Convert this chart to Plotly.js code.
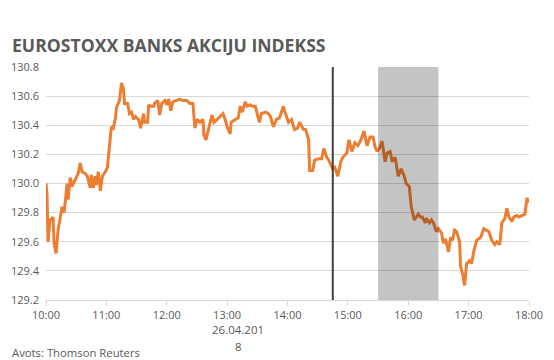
<!DOCTYPE html>
<html>
<head>
<meta charset="utf-8">
<script src="https://cdn.plot.ly/plotly-3.0.1.min.js"></script>
<style>html,body{margin:0;padding:0;background:#fff;}#chart{width:554px;height:360px;}</style>
</head>
<body>
<div id="chart"></div>
<script>
const dateStr = "2018-04-26";
const times = ["10:00","10:01","10:02","10:04","10:06","10:07","10:08","10:10","10:12","10:15","10:16","10:18","10:21","10:22","10:24","10:26","10:29","10:32","10:34","10:36","10:39","10:41","10:44","10:45","10:47","10:49","10:50","10:52","10:54","10:56","10:59","11:01","11:03","11:05","11:07","11:09","11:10","11:13","11:15","11:17","11:18","11:21","11:23","11:25","11:27","11:29","11:32","11:34","11:37","11:38","11:41","11:42","11:44","11:47","11:48","11:51","11:53","11:55","11:58","12:00","12:02","12:04","12:06","12:10","12:13","12:16","12:20","12:23","12:26","12:28","12:30","12:33","12:36","12:37","12:39","12:41","12:45","12:47","12:50","12:53","12:56","12:58","13:00","13:03","13:04","13:08","13:11","13:13","13:15","13:18","13:20","13:23","13:25","13:28","13:29","13:32","13:34","13:38","13:41","13:43","13:46","13:49","13:52","13:56","13:57","14:01","14:04","14:07","14:10","14:12","14:16","14:18","14:21","14:22","14:25","14:27","14:31","14:34","14:36","14:39","14:41","14:45","14:47","14:50","14:53","14:55","14:59","15:01","15:04","15:07","15:10","15:13","15:16","15:19","15:22","15:25","15:27","15:29","15:32","15:34","15:37","15:39","15:42","15:44","15:47","15:50","15:53","15:56","15:58","16:01","16:03","16:06","16:08","16:10","16:12","16:14","16:17","16:18","16:21","16:23","16:25","16:28","16:30","16:33","16:35","16:37","16:40","16:42","16:44","16:46","16:48","16:51","16:52","16:54","16:56","16:58","17:01","17:03","17:05","17:08","17:10","17:12","17:15","17:18","17:20","17:23","17:26","17:28","17:31","17:33","17:36","17:38","17:40","17:43","17:45","17:48","17:50","17:53","17:56","17:58","18:00"];
const values = [130.00,129.93,129.60,129.75,129.76,129.77,129.59,129.52,129.68,129.82,129.84,129.80,130.00,129.89,130.04,129.98,130.02,130.07,130.14,130.08,130.07,130.05,129.97,130.06,129.97,130.05,129.99,130.08,129.95,130.05,130.08,130.11,130.25,130.39,130.38,130.45,130.52,130.57,130.69,130.65,130.55,130.55,130.48,130.49,130.44,130.46,130.44,130.38,130.48,130.42,130.42,130.54,130.53,130.53,130.55,130.57,130.47,130.55,130.57,130.54,130.58,130.50,130.56,130.57,130.58,130.57,130.57,130.55,130.55,130.38,130.44,130.42,130.44,130.33,130.30,130.36,130.47,130.42,130.44,130.46,130.48,130.44,130.39,130.34,130.42,130.44,130.45,130.53,130.49,130.56,130.53,130.54,130.53,130.53,130.50,130.42,130.48,130.49,130.48,130.46,130.39,130.44,130.45,130.53,130.50,130.42,130.44,130.37,130.38,130.42,130.37,130.37,130.30,130.09,130.09,130.16,130.17,130.17,130.24,130.18,130.16,130.10,130.11,130.05,130.15,130.18,130.21,130.30,130.22,130.28,130.26,130.30,130.36,130.26,130.32,130.32,130.25,130.22,130.25,130.29,130.15,130.21,130.22,130.15,130.18,130.05,130.10,130.05,130.00,129.98,129.84,129.75,129.77,129.79,129.77,129.77,129.73,129.76,129.73,129.75,129.73,129.67,129.69,129.66,129.59,129.62,129.53,129.63,129.61,129.68,129.67,129.60,129.43,129.38,129.30,129.45,129.47,129.45,129.53,129.61,129.62,129.63,129.69,129.68,129.67,129.61,129.58,129.60,129.58,129.73,129.76,129.83,129.77,129.74,129.77,129.78,129.77,129.78,129.79,129.90,129.87];
const tickTimes = ["10:00","11:00","12:00","13:00","14:00","15:00","16:00","17:00","18:00"];
const yTicks = [129.2,129.4,129.6,129.8,130.0,130.2,130.4,130.6,130.8];
const markerTime = "14:45";
const bandStart = "15:30";
const bandEnd = "16:30";
const titleText = "EUROSTOXX BANKS AKCIJU INDEKSS";
const sourceText = "Avots: Thomson Reuters";
const dateLabel = ["26.04.201","8"];

const xs = times.map(t => dateStr + " " + t);
const font = "Open Sans, Noto Sans, sans-serif";
const grey = "#595959";

const trace = {
  x: xs, y: values, type: "scatter", mode: "lines",
  line: {color: "#ED7D31", width: 3, shape: "linear"},
  hoverinfo: "skip"
};

const layout = {
  width: 554, height: 360,
  margin: {l: 46, r: 25, t: 67, b: 60},
  paper_bgcolor: "#ffffff", plot_bgcolor: "#ffffff",
  showlegend: false,
  font: {family: font, color: grey, size: 11},
  xaxis: {
    type: "date",
    range: [dateStr + " 10:00", dateStr + " 18:00"],
    tickvals: tickTimes.map(t => dateStr + " " + t),
    ticktext: tickTimes,
    showgrid: false, zeroline: false,
    showline: true, linecolor: "#d9d9d9", linewidth: 1,
    ticks: "outside", ticklen: 5, tickcolor: "#d9d9d9",
    tickfont: {family: font, size: 11, color: grey},
    fixedrange: true
  },
  yaxis: {
    range: [129.2, 130.8],
    tickvals: yTicks,
    ticktext: yTicks.map(v => v.toFixed(1)),
    showgrid: true, gridcolor: "#d9d9d9", gridwidth: 1,
    zeroline: false, showline: false, ticks: "",
    ticklabelstandoff: 6,
    tickfont: {family: font, size: 11, color: grey},
    fixedrange: true
  },
  shapes: [
    {type: "rect", xref: "x", yref: "paper", x0: dateStr + " " + bandStart, x1: dateStr + " " + bandEnd, y0: 0, y1: 1,
     fillcolor: "rgba(0,0,0,0.23)", line: {width: 0}, layer: "above"},
    {type: "line", xref: "x", yref: "paper", x0: dateStr + " " + markerTime, x1: dateStr + " " + markerTime, y0: 0, y1: 1,
     line: {color: "#404040", width: 2}, layer: "above"}
  ],
  annotations: [
    {text: "<b>" + titleText + "</b>", xref: "paper", yref: "paper", x: -36/483, y: 1 + 22/233, xanchor: "left", yanchor: "middle",
     showarrow: false, font: {family: font, size: 17.6, color: grey}},
    {text: sourceText, xref: "paper", yref: "paper", x: -36/483, y: -52/233, xanchor: "left", yanchor: "middle",
     showarrow: false, font: {family: font, size: 11.3, color: grey}},
    {text: dateLabel[0], xref: "paper", yref: "paper", x: 192/483, y: -29/233, xanchor: "center", yanchor: "middle",
     showarrow: false, font: {family: font, size: 11.5, color: grey}},
    {text: dateLabel[1], xref: "paper", yref: "paper", x: 192/483, y: -46/233, xanchor: "center", yanchor: "middle",
     showarrow: false, font: {family: font, size: 11.5, color: grey}}
  ]
};

Plotly.newPlot("chart", [trace], layout, {displayModeBar: false, staticPlot: true});
</script>
</body>
</html>
